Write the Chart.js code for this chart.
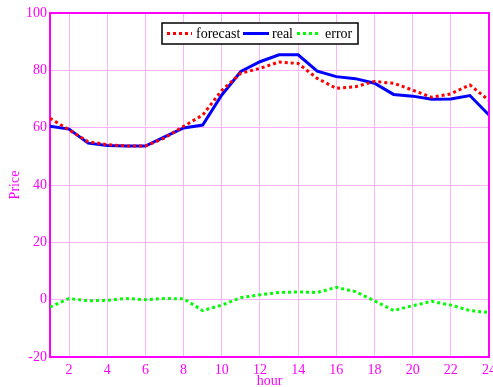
<!DOCTYPE html>
<html>
<head>
<meta charset="utf-8">
<script src="https://cdn.jsdelivr.net/npm/chart.js@4/dist/chart.umd.min.js"></script>
<style>
  html, body { margin: 0; padding: 0; background: #fff; }
  #wrap { width: 493px; height: 387px; }
</style>
</head>
<body>
<div id="wrap"><canvas id="myChart" width="493" height="387"></canvas></div>
<script>
// data
var hours = [1,2,3,4,5,6,7,8,9,10,11,12,13,14,15,16,17,18,19,20,21,22,23,24];
var forecast = [63.3,59.2,55.1,54.1,53.6,53.6,56.4,60.5,64.4,73,79,80.7,82.9,82.4,77.2,73.7,74.3,76.1,75.5,73.1,70.6,71.8,74.9,69.5];
var real = [60.5,59.5,54.6,53.8,53.6,53.6,56.8,59.9,60.9,71.4,79.6,83.0,85.4,85.4,79.7,77.8,77.1,75.5,71.6,71.0,69.9,70.0,71.2,64.4];
var error = [-2.6,0.4,-0.4,-0.2,0.4,0,0.4,0.3,-3.8,-1.9,0.7,1.7,2.5,2.7,2.5,4.3,2.8,-0.4,-3.8,-2.1,-0.6,-1.9,-3.8,-4.5];
var xTicks = [2,4,6,8,10,12,14,16,18,20,22,24];
var yTicks = [-20,0,20,40,60,80,100];

var magenta = '#ff00ff';
var gridPink = '#ffb3ff';
var serif = "'Liberation Serif', 'DejaVu Serif', serif";

function pts(arr) {
    return arr.map(function(v, i) { return {x: hours[i], y: v}; });
}

// frame on top/right + legend box inside the plot
var framePlugin = {
    id: 'frame',
    afterDatasetsDraw: function(chart) {
        var c = chart.ctx, a = chart.chartArea;
        c.save();
        c.strokeStyle = magenta;
        c.lineWidth = 2;
        c.beginPath();
        c.moveTo(a.left, a.top);
        c.lineTo(a.right, a.top);
        c.lineTo(a.right, a.bottom);
        c.stroke();

        // legend
        var bx = 162, by = 23, bw = 196, bh = 21;
        c.fillStyle = '#fff';
        c.fillRect(bx, by, bw, bh);
        c.strokeStyle = '#000';
        c.lineWidth = 1.5;
        c.strokeRect(bx, by, bw, bh);
        var items = [
            {ds: 0, x1: 167, x2: 192, tx: 196},
            {ds: 1, x1: 243, x2: 269, tx: 272},
            {ds: 2, x1: 297, x2: 321, tx: 325}
        ];
        var ly = by + bh / 2;
        c.font = '14px ' + serif;
        c.textBaseline = 'middle';
        items.forEach(function(it) {
            var ds = chart.data.datasets[it.ds];
            c.strokeStyle = ds.borderColor;
            c.lineWidth = 3;
            c.setLineDash(ds.borderDash || []);
            c.beginPath();
            c.moveTo(it.x1, ly);
            c.lineTo(it.x2, ly);
            c.stroke();
            c.setLineDash([]);
            c.fillStyle = '#000';
            c.fillText(ds.label, it.tx, ly + 1);
        });
        c.restore();
    }
};

var ctx = document.getElementById('myChart').getContext('2d');
var myChart = new Chart(ctx, {
    type: 'line',
    data: {
        datasets: [{
            label: 'forecast',
            data: pts(forecast),
            borderColor: '#ff0000',
            borderWidth: 3,
            borderDash: [3, 3],
            pointRadius: 0,
            tension: 0
        }, {
            label: 'real',
            data: pts(real),
            borderColor: '#0000ff',
            borderWidth: 3,
            pointRadius: 0,
            tension: 0
        }, {
            label: 'error',
            data: pts(error),
            borderColor: '#00ff00',
            borderWidth: 3,
            borderDash: [3, 3],
            pointRadius: 0,
            tension: 0
        }]
    },
    options: {
        responsive: false,
        animation: false,
        layout: { padding: { top: 13, right: 4, left: 0, bottom: 0 } },
        plugins: {
            legend: { display: false },
            tooltip: { enabled: false }
        },
        scales: {
            x: {
                type: 'linear',
                min: 1,
                max: 24,
                afterBuildTicks: function(axis) {
                    axis.ticks = xTicks.map(function(v) { return {value: v}; });
                },
                afterFit: function(axis) {
                    axis.height = 30;
                    axis.paddingLeft = 0;
                    axis.paddingRight = 0;
                },
                grid: { color: gridPink, lineWidth: 1, tickLength: 0 },
                border: { color: magenta, width: 2 },
                ticks: {
                    color: magenta,
                    font: { family: serif, size: 14 },
                    padding: 5,
                    maxRotation: 0,
                    autoSkip: false
                },
                title: {
                    display: true,
                    text: 'hour',
                    color: magenta,
                    font: { family: serif, size: 14 },
                    padding: { top: -3, bottom: -3 }
                }
            },
            y: {
                min: -20,
                max: 100,
                afterBuildTicks: function(axis) {
                    axis.ticks = yTicks.map(function(v) { return {value: v}; });
                },
                afterFit: function(axis) {
                    axis.width = 50;
                    axis.paddingTop = 0;
                    axis.paddingBottom = 0;
                },
                grid: { color: gridPink, lineWidth: 1, tickLength: 0 },
                border: { color: magenta, width: 2 },
                ticks: {
                    color: magenta,
                    font: { family: serif, size: 14 },
                    padding: 3
                },
                title: {
                    display: true,
                    text: 'Price',
                    color: magenta,
                    font: { family: serif, size: 14 },
                    padding: { top: 7, bottom: 0 }
                }
            }
        }
    },
    plugins: [framePlugin]
});
</script>
</body>
</html>
